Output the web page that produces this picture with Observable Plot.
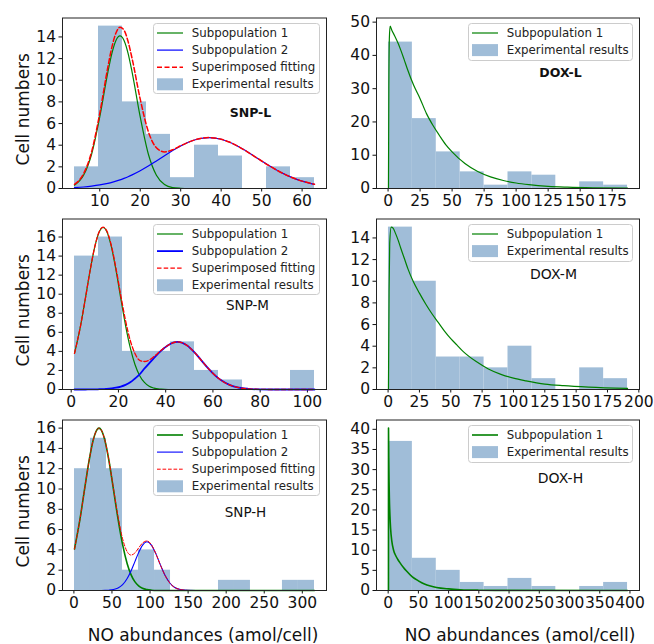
<!DOCTYPE html>
<html><head><meta charset="utf-8">
<script src="https://cdn.jsdelivr.net/npm/d3@7"></script>
<script src="https://cdn.jsdelivr.net/npm/@observablehq/plot@0.6"></script>
<style>
body{margin:0;background:#fff;}
#fig{position:relative;width:654px;height:644px;overflow:hidden;background:#fff;font-family:"DejaVu Sans",sans-serif;}
</style></head><body><div id="fig"></div>
<script>
// ---------------- DATA ----------------
// SNP-L
const snpL_edges = [3.76, 9.69, 15.62, 21.55, 27.48, 33.41, 39.34, 45.27, 51.2, 57.13, 63.06];
const snpL_counts = [2, 15, 8, 5, 1, 4, 3, 0, 2, 1];
const snpL_x = [3.76,6,8,10,12,13,14,15,16,17,18,20,22,24,26,28,30,32,34,37,40,42,44,46,48,50,52,54,56,58,60,62,63.06];
const snpL_sub1 = [0.31,1.22,3.19,6.61,10.73,12.49,13.68,14.1,13.68,12.49,10.73,6.61,3.19,1.22,0.36,0.08,0.02,0,0,0,0,0,0,0,0,0,0,0,0,0,0,0,0];
const snpL_sub2 = [0.08,0.14,0.22,0.33,0.48,0.57,0.68,0.80,0.94,1.09,1.26,1.64,2.07,2.54,3.02,3.50,3.93,4.29,4.55,4.70,4.55,4.29,3.93,3.50,3.02,2.54,2.07,1.64,1.26,0.94,0.68,0.48,0.39];
const snpL_fit = [0.39,1.36,3.41,6.94,11.21,13.06,14.36,14.90,14.62,13.58,11.99,8.25,5.26,3.76,3.38,3.58,3.95,4.29,4.55,4.70,4.55,4.29,3.93,3.50,3.02,2.54,2.07,1.64,1.26,0.94,0.68,0.48,0.39];
const snpL_xticks = [10, 20, 30, 40, 50, 60];
const snpL_yticks = [0, 2, 4, 6, 8, 10, 12, 14];

// SNP-M
const snpM_edges = [1.4, 11.56, 21.72, 31.88, 42.04, 52.2, 62.36, 72.52, 82.68, 92.84, 103.0];
const snpM_counts = [14, 16, 4, 4, 5, 2, 1, 0, 0, 2];
const snpM_x = [1.4,4,6,8,10,12,13.5,15,17,19,21,23,25,27,29,31,33,35,38,41,45,49,52,55,58,61,64,67,70,75,80,85,90,95,103];
const snpM_sub1 = [3.79,6.74,9.55,12.47,14.99,16.61,17,16.61,14.99,12.47,9.55,6.74,4.39,2.63,1.45,0.74,0.34,0.15,0.04,0,0,0,0,0,0,0,0,0,0,0,0,0,0,0,0];
const snpM_sub2 = [0,0,0,0.01,0.01,0.03,0.04,0.07,0.12,0.19,0.31,0.49,0.75,1.15,1.6,2.2,2.75,3.3,4.05,4.65,5.0,4.63,3.95,3.09,2.22,1.46,0.88,0.49,0.25,0.07,0.01,0,0,0,0];
const snpM_fit = [3.79,6.74,9.55,12.48,15.0,16.64,17.04,16.68,15.11,12.66,9.86,7.23,5.14,3.78,3.05,2.94,3.09,3.45,4.09,4.65,5.0,4.63,3.95,3.09,2.22,1.46,0.88,0.49,0.25,0.07,0.01,0,0,0,0];
const snpM_xticks = [0, 20, 40, 60, 80, 100];
const snpM_yticks = [0, 2, 4, 6, 8, 10, 12, 14, 16];

// SNP-H
const snpH_edges = [0.8, 21.8, 42.8, 63.8, 84.8, 105.9, 126.9, 147.9, 168.9, 189.9, 210.9, 231.9, 252.9, 273.9, 294.9, 316.0];
const snpH_counts = [12, 15, 12, 2, 4, 2, 0, 0, 0, 1, 1, 0, 0, 1, 1];
const snpH_x = [0.8,8,15,20,25,30,33,36,41,46,52,58,64,70,75,80,85,90,96,102,108,114,120,126,132,140,150,160,180,200,250,316];
const snpH_sub1 = [4.09,7.03,10.45,12.81,14.71,15.81,16,15.81,14.71,12.81,9.95,7.03,4.52,2.64,1.57,0.87,0.46,0.22,0.09,0.03,0,0,0,0,0,0,0,0,0,0,0,0];
const snpH_sub2 = [0,0,0,0,0,0,0,0,0.01,0.03,0.09,0.24,0.57,1.18,1.92,2.82,3.73,4.45,4.8,4.45,3.56,2.45,1.45,0.74,0.32,0.09,0.01,0,0,0,0,0];
const snpH_fit = [4.09,7.03,10.45,12.81,14.71,15.81,16.0,15.81,14.72,12.84,10.04,7.27,5.09,3.82,3.49,3.69,4.19,4.67,4.89,4.48,3.56,2.45,1.45,0.74,0.32,0.09,0.01,0,0,0,0,0];
const snpH_xticks = [0, 50, 100, 150, 200, 250, 300];
const snpH_yticks = [0, 2, 4, 6, 8, 10, 12, 14, 16];

// DOX-L
const doxL_edges = [0.3, 18.97, 37.64, 56.31, 74.98, 93.65, 112.32, 130.99, 149.66, 168.33, 187.0];
const doxL_counts = [44, 21, 11, 5, 1, 5, 4, 0, 2, 1];
const doxL_x = [0.3,0.6,1.0,1.6,3,5,8,10,12.5,15,20,25,30,35,40,45,50,60,70,80,90,100,110,125,140,160,187];
const doxL_sub1 = [0,30,45,48.8,47.5,46,43.5,41.5,38.8,36,31,27,22.5,19,16,13.2,11,7.5,5.1,3.5,2.4,1.65,1.15,0.65,0.4,0.2,0.1];
const doxL_xticks = [0, 25, 50, 75, 100, 125, 150, 175];
const doxL_yticks = [0, 10, 20, 30, 40, 50];

// DOX-M
const doxM_edges = [0.3, 19.37, 38.44, 57.51, 76.58, 95.65, 114.72, 133.79, 152.86, 171.93, 191.0];
const doxM_counts = [15, 10, 3, 3, 2, 4, 1, 0, 2, 1];
const doxM_x = [0.3,0.8,1.3,2.5,4,6,8,10,13,16,20,25,30,35,40,45,50,55,60,70,80,90,100,110,125,140,160,191];
const doxM_sub1 = [0,9,13.5,15.0,14.9,14.4,13.8,13.1,12.1,11.1,10.0,8.9,7.9,7.0,6.2,5.4,4.7,4.1,3.5,2.6,1.9,1.4,1.05,0.8,0.5,0.35,0.22,0.1];
const doxM_xticks = [0, 25, 50, 75, 100, 125, 150, 175, 200];
const doxM_yticks = [0, 2, 4, 6, 8, 10, 12, 14];

// DOX-H
const doxH_edges = [0.5, 40.05, 79.6, 119.15, 158.7, 198.25, 237.8, 277.35, 316.9, 356.45, 396.0];
const doxH_counts = [37, 8, 5, 2, 1, 3, 1, 0, 1, 2];
const doxH_x = [0.5,0.6,1,1.5,2,3,4,6,9,12,16,20,25,30,40,50,60,70,80,100,120,150,200,396];
const doxH_sub1 = [0,40.3,33,27,23,18.5,15.5,12.3,10,8.8,7.7,6.8,5.8,4.9,3.4,2.4,1.6,1.1,0.75,0.4,0.2,0.08,0.02,0];
const doxH_xticks = [0, 50, 100, 150, 200, 250, 300, 350, 400];
const doxH_yticks = [0, 5, 10, 15, 20, 25, 30, 35, 40];

const seriesNames = ["Subpopulation 1", "Subpopulation 2", "Superimposed fitting", "Experimental results"];
const panelLabels = ["SNP-L", "SNP-M", "SNP-H", "DOX-L", "DOX-M", "DOX-H"];
const yLabel = "Cell numbers";
const xLabel = "NO abundances (amol/cell)";

// ---------------- STYLE / LAYOUT ----------------
const FONT = '"DejaVu Sans", sans-serif';
const BAR = "#a0bdd8";
const GREEN = "#008000", BLUE = "#0000ff", RED = "#ff0000";

const panels = [
  {row:0, col:0, edges:snpL_edges, counts:snpL_counts, cx:snpL_x, xticks:snpL_xticks, yticks:snpL_yticks, label:panelLabels[0],
   curves:[{y:snpL_sub1,c:GREEN,w:1.2},{y:snpL_sub2,c:BLUE,w:1.2},{y:snpL_fit,c:RED,w:1.5,dash:"5,2.5"}],
   lab:{dx:188, dy:94.5, size:12.5, weight:"bold"}},
  {row:1, col:0, edges:snpM_edges, counts:snpM_counts, cx:snpM_x, xticks:snpM_xticks, yticks:snpM_yticks, label:panelLabels[1],
   curves:[{y:snpM_sub1,c:GREEN,w:1.2},{y:snpM_sub2,c:BLUE,w:1.8},{y:snpM_fit,c:RED,w:1.3,dash:"4.5,2.2"}],
   lab:{dx:185, dy:87, size:13.5, weight:"normal"}},
  {row:2, col:0, edges:snpH_edges, counts:snpH_counts, cx:snpH_x, xticks:snpH_xticks, yticks:snpH_yticks, label:panelLabels[2],
   curves:[{y:snpH_sub1,c:GREEN,w:1.6},{y:snpH_sub2,c:BLUE,w:1.1},{y:snpH_fit,c:RED,w:1.0,dash:"3.7,1.8"}],
   lab:{dx:183, dy:93, size:13.5, weight:"normal"}},
  {row:0, col:1, edges:doxL_edges, counts:doxL_counts, cx:doxL_x, xticks:doxL_xticks, yticks:doxL_yticks, label:panelLabels[3],
   curves:[{y:doxL_sub1,c:GREEN,w:1.2}],
   lab:{dx:184, dy:54.5, size:12.5, weight:"bold"}},
  {row:1, col:1, edges:doxM_edges, counts:doxM_counts, cx:doxM_x, xticks:doxM_xticks, yticks:doxM_yticks, label:panelLabels[4],
   curves:[{y:doxM_sub1,c:GREEN,w:1.2}],
   lab:{dx:177, dy:55.5, size:14, weight:"normal"}},
  {row:2, col:1, edges:doxH_edges, counts:doxH_counts, cx:doxH_x, xticks:doxH_xticks, yticks:doxH_yticks, label:panelLabels[5],
   curves:[{y:doxH_sub1,c:GREEN,w:1.6}],
   lab:{dx:184, dy:59, size:14, weight:"normal"}}
];

const fig = document.getElementById("fig");

function makePanel(p) {
  const W = p.col === 0 ? 330 : 324;
  const left = p.col === 0 ? 0 : 330;
  const ml = p.col === 0 ? 62 : 46;
  const mr = p.col === 0 ? 4 : 15;
  const top = p.row * 201;
  const H = p.row === 2 ? 252 : 230;
  const mt = 17.5, frameH = 170.5;
  const mb = H - mt - frameH;
  const bars = p.counts.map((c, i) => ({x1: p.edges[i], x2: p.edges[i + 1], y: c}));
  const lo = p.edges[0], hi = p.edges[p.edges.length - 1], pad = 0.05 * (hi - lo);
  const ymax = Math.max(d3.max(p.counts), ...p.curves.map(c => d3.max(c.y))) * 1.05;
  const marks = [
    Plot.rectY(bars, {x1: "x1", x2: "x2", y: "y", fill: BAR, inset: 0})
  ];
  for (const c of p.curves) {
    marks.push(Plot.line(p.cx.map((x, i) => ({x, y: c.y[i]})), {
      x: "x", y: "y", stroke: c.c, strokeWidth: c.w, strokeDasharray: c.dash || null, curve: "monotone-x"
    }));
  }
  marks.push(Plot.frame({stroke: "#222", strokeWidth: 1}));
  marks.push(Plot.text([p.label], {frameAnchor: "top-left", dx: p.lab.dx, dy: p.lab.dy, text: d => d,
    fontSize: p.lab.size, fontWeight: p.lab.weight, textAnchor: "middle", lineAnchor: "middle", fill: "#111"}));
  if (p.col === 0) {
    marks.push(Plot.text([yLabel], {frameAnchor: "left", dx: -39, dy: 6, rotate: -90, text: d => d,
      fontSize: 17, textAnchor: "middle", lineAnchor: "middle", fill: "#111"}));
  }
  if (p.row === 2) {
    marks.push(Plot.text([xLabel], {frameAnchor: "bottom", dx: p.col === 0 ? 8.5 : 12, dy: 45.5, text: d => d,
      fontSize: 17, textAnchor: "middle", lineAnchor: "middle", fill: "#111"}));
  }
  const svg = Plot.plot({
    width: W, height: H, marginLeft: ml, marginRight: mr, marginTop: mt, marginBottom: mb,
    style: {fontFamily: FONT, fontSize: "15.5px", background: "transparent", overflow: "visible", color: "#111"},
    x: {domain: [lo - pad, hi + pad], ticks: p.xticks, tickSize: 3.5, tickPadding: 3, label: null},
    y: {domain: [0, ymax], ticks: p.yticks, tickSize: 3.5, tickPadding: 3, label: null},
    marks
  });
  svg.style.position = "absolute";
  svg.style.left = left + "px";
  svg.style.top = top + "px";
  fig.appendChild(svg);

  // legend
  const isSNP = p.col === 0;
  const lx = isSNP ? 153 : 468;
  const lw = isSNP ? 167 : 165;
  const ly = [23, 223.5, 424.5][p.row];
  const entries = isSNP
    ? [{name: seriesNames[0], ...p.curves[0]}, {name: seriesNames[1], ...p.curves[1]}, {name: seriesNames[2], ...p.curves[2]}, {name: seriesNames[3], patch: true}]
    : [{name: seriesNames[0], ...p.curves[0]}, {name: seriesNames[3], patch: true}];
  const lh = isSNP ? 71 : 38;
  const leg = d3.create("svg").attr("width", lw).attr("height", lh)
    .style("position", "absolute").style("left", lx + "px").style("top", ly + "px").style("overflow", "visible");
  leg.append("rect").attr("x", 0.5).attr("y", 0.5).attr("width", lw - 1).attr("height", lh - 1).attr("rx", 3)
    .attr("fill", "white").attr("fill-opacity", 0.8).attr("stroke", "#cccccc");
  entries.forEach((e, i) => {
    const cy = 10 + 17.1 * i;
    if (e.patch) {
      leg.append("rect").attr("x", 4).attr("y", cy - 6).attr("width", 26).attr("height", 12).attr("fill", BAR);
    } else {
      leg.append("line").attr("x1", 4).attr("x2", 30).attr("y1", cy).attr("y2", cy)
        .attr("stroke", e.c).attr("stroke-width", e.w).attr("stroke-dasharray", e.dash || null);
    }
    leg.append("text").attr("x", 38.7).attr("y", cy).attr("dy", "0.35em")
      .attr("font-family", FONT).attr("font-size", 11.8).attr("fill", "#222").text(e.name);
  });
  fig.appendChild(leg.node());
}

panels.forEach(makePanel);
</script></body></html>
